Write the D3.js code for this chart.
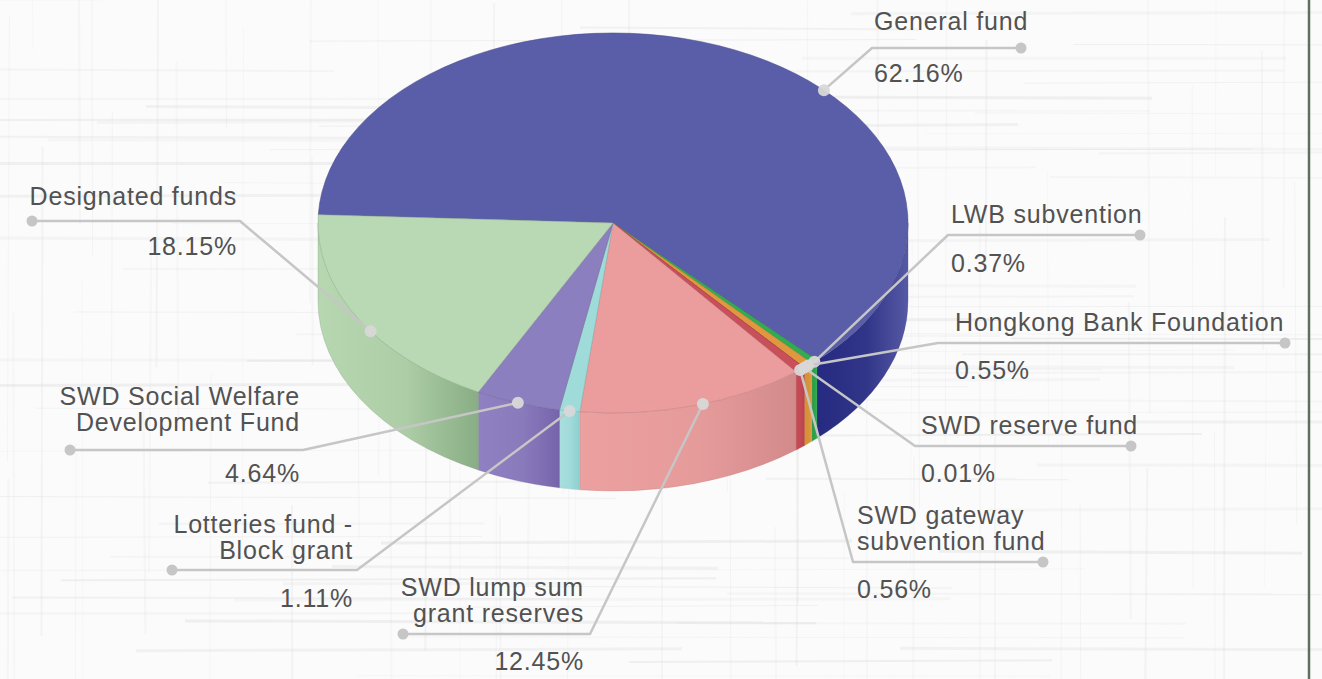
<!DOCTYPE html>
<html>
<head>
<meta charset="utf-8">
<script src="https://cdn.jsdelivr.net/npm/d3@7/dist/d3.min.js"></script>
<style>
  body { margin: 0; background: #fff; }
  svg { display: block; }
</style>
</head>
<body>
<svg id="chart"></svg>
<script>
var width = 1322, height = 679;

// data
var categories = ['General fund', 'LWB subvention', 'Hongkong Bank Foundation', 'SWD reserve fund',
  'SWD gateway subvention fund', 'SWD lump sum grant reserves', 'Lotteries fund - Block grant',
  'SWD Social Welfare Development Fund', 'Designated funds'];
var shares = [62.16, 0.37, 0.55, 0.01, 0.56, 12.45, 1.11, 4.64, 18.15];
var labelLines = [['General fund'], ['LWB subvention'], ['Hongkong Bank Foundation'], ['SWD reserve fund'],
  ['SWD gateway', 'subvention fund'], ['SWD lump sum', 'grant reserves'], ['Lotteries fund -', 'Block grant'],
  ['SWD Social Welfare', 'Development Fund'], ['Designated funds']];

// colours
var topColors = ['#5a5ea8', '#31ad4f', '#e0973f', '#c95a5a', '#c9505b', '#eb9c9c', '#9fdbd9', '#8c7fbf', '#b9d9b4'];
var sideColors = [['#262a80', '#5659a4'], ['#27a048', '#2fae50'], ['#d68f36', '#df9d45'], ['#c55', '#c55'],
  ['#c54a55', '#bd4450'], ['#eca0a0', '#d38a8b'], ['#a8dede', '#8ccfcf'], ['#8f81c1', '#7664ab'], ['#b7d7b1', '#89ad85']];

// label placement (annotation layout)
var labelLayout = [
  {side: 'r', tx: 874, ty: 30,  lineY: 48,  elbowX: 872, dotX: 1021, py: 82,  at: 0.595},
  {side: 'r', tx: 951, ty: 223, lineY: 235, elbowX: 948, dotX: 1140, py: 272, at: 0.5},
  {side: 'r', tx: 955, ty: 331, lineY: 343, elbowX: 938, dotX: 1285, py: 379, at: 0.5},
  {side: 'r', tx: 921, ty: 434, lineY: 446, elbowX: 915, dotX: 1131, py: 482, at: 0.5},
  {side: 'r', tx: 857, ty: 524, lineY: 562, elbowX: 853, dotX: 1043, py: 598, at: 0.5},
  {side: 'l', tx: 584, ty: 596, lineY: 634, elbowX: 590, dotX: 403,  py: 670, at: 0.46},
  {side: 'l', tx: 353, ty: 533, lineY: 570, elbowX: 357, dotX: 172,  py: 607, at: 0.5},
  {side: 'l', tx: 300, ty: 405, lineY: 450, elbowX: 303, dotX: 70,   py: 482, at: 0.5},
  {side: 'l', tx: 237, ty: 205, lineY: 221, elbowX: 240, dotX: 32,   py: 255, at: 0.43}
];

var cx = 613, cy = 223, rx = 295, ry = 190, depth = 78,
    pi = Math.PI,
    start = -87.5 / 180 * pi;

var svg = d3.select('#chart').attr('width', width).attr('height', height)
  .attr('viewBox', '0 0 ' + width + ' ' + height);
var defs = svg.append('defs');

// paper background with faint scratches
svg.append('rect').attr('width', width).attr('height', height).attr('fill', '#fbfbfb');
var bg = svg.append('g').attr('stroke', '#dcdcdc').attr('fill', 'none');
d3.range(90).forEach(function(i) {
  var y = (i * 47.3 + 23 * Math.sin(i * 1.3)) % height;
  var x0 = ((i * 173) % width) - 200;
  bg.append('line').attr('x1', x0).attr('x2', x0 + 300 + (i * 61) % 500)
    .attr('y1', y).attr('y2', y + Math.sin(i) * 2)
    .attr('stroke-width', 1 + (i % 3)).attr('stroke-opacity', 0.18 + (i % 4) * 0.06);
});
d3.range(70).forEach(function(i) {
  var x = (i * 59.7 + 31 * Math.cos(i * 0.9)) % width;
  var y0 = ((i * 131) % height) - 150;
  bg.append('line').attr('y1', y0).attr('y2', y0 + 200 + (i * 43) % 350)
    .attr('x1', x).attr('x2', x + Math.cos(i) * 2)
    .attr('stroke-width', 1 + (i % 2)).attr('stroke-opacity', 0.15 + (i % 3) * 0.06);
});

// right border
svg.append('line').attr('x1', 1309).attr('x2', 1309).attr('y1', 0).attr('y2', height)
  .attr('stroke', '#5e6f60').attr('stroke-width', 2.5);

var pie = d3.pie().value(function(d) { return d; }).sort(null)
  .startAngle(start).endAngle(start + 2 * pi);
var arcs = pie(shares);

function pt(a, dy) {
  return [cx + rx * Math.sin(a), cy - ry * Math.cos(a) + (dy || 0)];
}
function topPath(d) {
  var p0 = pt(d.startAngle), p1 = pt(d.endAngle),
      large = d.endAngle - d.startAngle > pi ? 1 : 0;
  return 'M' + cx + ',' + cy + 'L' + p0 + 'A' + rx + ',' + ry + ' 0 ' + large + ' 1 ' + p1 + 'Z';
}
function sidePath(a0, a1) {
  var p0 = pt(a0), p1 = pt(a1);
  return 'M' + p0 + 'A' + rx + ',' + ry + ' 0 0 1 ' + p1 +
    'L' + p1[0] + ',' + (p1[1] + depth) +
    'A' + rx + ',' + ry + ' 0 0 0 ' + p0[0] + ',' + (p0[1] + depth) + 'Z';
}

// side walls (front half only)
var sides = svg.append('g').attr('id', 'sides');
arcs.forEach(function(d, i) {
  var a0 = Math.max(d.startAngle, pi / 2), a1 = Math.min(d.endAngle, 3 * pi / 2);
  if (a1 <= a0) return;
  var xa = pt(a0)[0], xb = pt(a1)[0];
  var g = defs.append('linearGradient').attr('id', 'side' + i)
    .attr('gradientUnits', 'userSpaceOnUse')
    .attr('x1', Math.min(xa, xb)).attr('x2', Math.max(xa, xb)).attr('y1', 0).attr('y2', 0);
  var c = sideColors[i];
  g.append('stop').attr('offset', 0).attr('stop-color', c[0]);
  g.append('stop').attr('offset', 0.55).attr('stop-color', d3.interpolateRgb(c[0], c[1])(0.25));
  g.append('stop').attr('offset', 1).attr('stop-color', c[1]);
  sides.append('path').attr('d', sidePath(a0, a1))
    .attr('fill', 'url(#side' + i + ')')
    .attr('stroke', d3.color(c[1]).darker(0.3)).attr('stroke-width', 0.6).attr('stroke-opacity', 0.5);
});

// top faces
svg.append('g').attr('id', 'tops').selectAll('path')
  .data(arcs).enter().append('path')
  .attr('d', topPath)
  .attr('fill', function(d, i) { return topColors[i]; })
  .attr('stroke', function(d, i) { return d3.color(topColors[i]).darker(0.6); })
  .attr('stroke-width', 0.9).attr('stroke-opacity', 0.6)
  .attr('stroke-linejoin', 'round');

// leader lines and labels
var lineColor = '#c6c6c6';
var labels = svg.append('g').attr('id', 'labels');
arcs.forEach(function(d, i) {
  var L = labelLayout[i];
  var a = d.startAngle + (d.endAngle - d.startAngle) * L.at;
  var p = pt(a);
  labels.append('polyline')
    .attr('points', [p, [L.elbowX, L.lineY], [L.dotX, L.lineY]].join(' '))
    .attr('fill', 'none').attr('stroke', lineColor).attr('stroke-width', 2.5)
    .attr('stroke-linejoin', 'round');
  labels.append('circle').attr('cx', L.dotX).attr('cy', L.lineY).attr('r', 5.5).attr('fill', lineColor);
  labels.append('circle').attr('cx', p[0]).attr('cy', p[1]).attr('r', 6)
    .attr('fill', '#d8d8d8').attr('fill-opacity', 0.95);

  var anchor = L.side === 'r' ? 'start' : 'end';
  var t = labels.append('text')
    .attr('font-family', 'Liberation Sans, Arial, sans-serif')
    .attr('font-size', '25px').attr('letter-spacing', '0.8px')
    .attr('fill', '#525252').attr('text-anchor', anchor);
  labelLines[i].forEach(function(s, k) {
    t.append('tspan').attr('x', L.tx).attr('y', L.ty + k * 26).text(s);
  });
  labels.append('text')
    .attr('font-family', 'Liberation Sans, Arial, sans-serif')
    .attr('font-size', '25px').attr('letter-spacing', '0.8px')
    .attr('fill', '#525252').attr('text-anchor', anchor)
    .attr('x', L.tx).attr('y', L.py)
    .text(shares[i].toFixed(2) + '%');
});
</script>
</body>
</html>
